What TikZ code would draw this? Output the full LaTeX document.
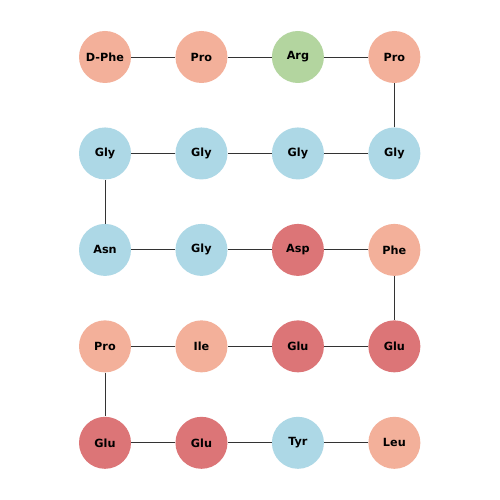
\documentclass[tikz,border=0pt]{standalone}
\usepackage{fontspec}
\setmainfont{DejaVu Sans}
\usetikzlibrary{positioning}
\definecolor{hydrocol}{HTML}{F3B09A}
\definecolor{basiccol}{HTML}{B3D59F}
\definecolor{polarcol}{HTML}{ADD8E6}
\definecolor{acidcol}{HTML}{DC7577}
\tikzset{
    residue/.style={circle, minimum size=1.04cm, inner sep=0pt, align=center,
                    font=\bfseries\fontsize{6.4}{7.5}\selectfont},
    hydrophobic/.style={residue, fill=hydrocol},
    basic/.style={residue, fill=basiccol},
    polar/.style={residue, fill=polarcol},
    acidic/.style={residue, fill=acidcol},
    bond/.style={draw=black!80, line width=0.5pt},
}

\begin{document}
\begin{tikzpicture}[node distance=0.875cm and 0.875cm]

    \useasboundingbox[fill=white] (0,0) rectangle (10,-10);

    % row 1
    \node[hydrophobic] (dphe) at (2.1,-1.14) {D-Phe};
    \node[hydrophobic, right=of dphe] (pro1) {Pro};
    \node[basic, right=of pro1] (arg) {Arg};
    \node[hydrophobic, right=of arg] (pro2) {Pro};

    % row 2
    \node[polar, below=of dphe] (gly1) {Gly};
    \node[polar, right=of gly1] (gly2) {Gly};
    \node[polar, right=of gly2] (gly3) {Gly};
    \node[polar, right=of gly3] (gly4) {Gly};

    % row 3
    \node[polar, below=of gly1] (asn) {Asn};
    \node[polar, right=of asn] (gly5) {Gly};
    \node[acidic, right=of gly5] (asp) {Asp};
    \node[hydrophobic, right=of asp] (phe) {Phe};

    % row 4
    \node[hydrophobic, below=of asn] (pro3) {Pro};
    \node[hydrophobic, right=of pro3] (ile) {Ile};
    \node[acidic, right=of ile] (glu1) {Glu};
    \node[acidic, right=of glu1] (glu2) {Glu};

    % row 5
    \node[acidic, below=of pro3] (glu3) {Glu};
    \node[acidic, right=of glu3] (glu4) {Glu};
    \node[polar, right=of glu4] (tyr) {Tyr};
    \node[hydrophobic, right=of tyr] (leu) {Leu};

    % chain
    \draw[bond] (dphe) -- (pro1);
    \draw[bond] (pro1) -- (arg);
    \draw[bond] (arg) -- (pro2);
    \draw[bond] (pro2) -- (gly4);
    \draw[bond] (gly4) -- (gly3);
    \draw[bond] (gly3) -- (gly2);
    \draw[bond] (gly2) -- (gly1);
    \draw[bond] (gly1) -- (asn);
    \draw[bond] (asn) -- (gly5);
    \draw[bond] (gly5) -- (asp);
    \draw[bond] (asp) -- (phe);
    \draw[bond] (phe) -- (glu2);
    \draw[bond] (glu2) -- (glu1);
    \draw[bond] (glu1) -- (ile);
    \draw[bond] (ile) -- (pro3);
    \draw[bond] (pro3) -- (glu3);
    \draw[bond] (glu3) -- (glu4);
    \draw[bond] (glu4) -- (tyr);
    \draw[bond] (tyr) -- (leu);

\end{tikzpicture}
\end{document}
